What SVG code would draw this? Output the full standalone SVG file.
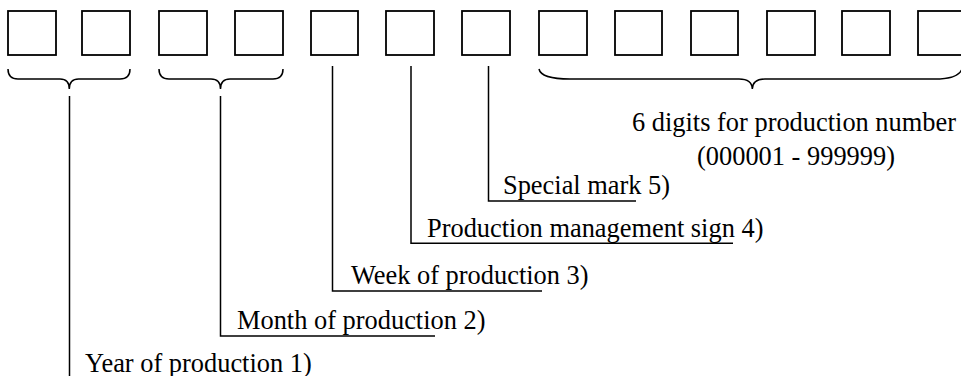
<svg xmlns="http://www.w3.org/2000/svg" width="961" height="376" viewBox="0 0 961 376">
<style>
.box{fill:#fff;stroke:#000;stroke-width:1.8}
.ln{fill:none;stroke:#000;stroke-width:1.5}
.t{font-family:"Liberation Serif","Times New Roman",serif;font-size:26.4px;fill:#000}
</style>
<rect width="961" height="376" fill="#fff"/>
<g id="box1"><rect class="box" x="8" y="11" width="48" height="44"/></g>
<g id="box2"><rect class="box" x="82" y="11" width="48" height="44"/></g>
<g id="box3"><rect class="box" x="159" y="11" width="48" height="44"/></g>
<g id="box4"><rect class="box" x="235" y="11" width="48" height="44"/></g>
<g id="box5"><rect class="box" x="311" y="11" width="47" height="44"/></g>
<g id="box6"><rect class="box" x="386" y="11" width="48" height="44"/></g>
<g id="box7"><rect class="box" x="462" y="11" width="48" height="44"/></g>
<g id="box8"><rect class="box" x="539" y="11" width="48" height="44"/></g>
<g id="box9"><rect class="box" x="615" y="11" width="47" height="44"/></g>
<g id="box10"><rect class="box" x="691" y="11" width="47" height="44"/></g>
<g id="box11"><rect class="box" x="767" y="11" width="48" height="44"/></g>
<g id="box12"><rect class="box" x="842" y="11" width="48" height="44"/></g>
<g id="box13"><rect class="box" x="918" y="11" width="48" height="44"/></g>

<g id="connectors">
<path class="ln" d="M8,69 Q8,79 18,79 L60,79 Q69.3,79 69.3,89 Q69.3,79 78.6,79 L120,79 Q130,79 130,69"/>
<path class="ln" d="M159,69 Q159,79 169,79 L211,79 Q220.5,79 220.5,89 Q220.5,79 230,79 L273,79 Q283,79 283,69"/>
<path class="ln" d="M539,69 Q541,79 570,79 L739,79 Q752,79 752.3,89 Q752.6,79 765,79 L935,79 Q958,79 962,69"/>
<path class="ln" d="M69.5,96 V376"/>
<path class="ln" d="M220.5,96 V336 H435"/>
<path class="ln" d="M332.5,66 V291 H542"/>
<path class="ln" d="M411,66 V243.3 H733"/>
<path class="ln" d="M488.5,66 V201 H636"/>
</g>

<g id="label-number"><text class="t" x="794" y="130.7" text-anchor="middle">6 digits for production number</text><text class="t" x="796" y="165" text-anchor="middle">(000001 - 999999)</text></g>
<g id="label-special"><text class="t" x="503" y="193.5">Special mark 5)</text></g>
<g id="label-management"><text class="t" x="427" y="236.5">Production management sign 4)</text></g>
<g id="label-week"><text class="t" x="351" y="283.5">Week of production 3)</text></g>
<g id="label-month"><text class="t" x="237" y="329">Month of production 2)</text></g>
<g id="label-year"><text class="t" x="85" y="371.7">Year of production 1)</text></g>
</svg>
